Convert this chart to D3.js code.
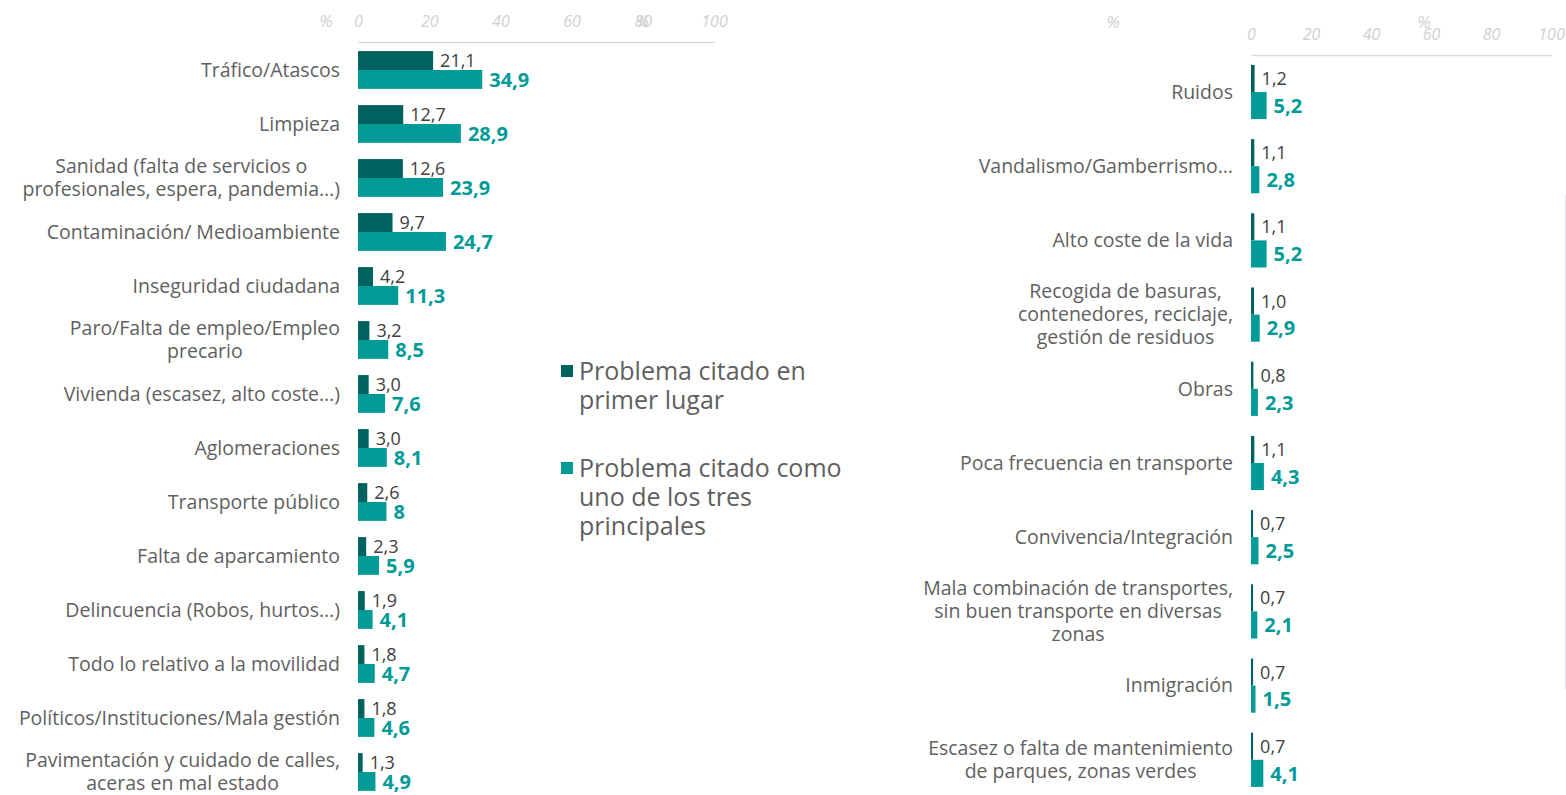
<!DOCTYPE html>
<html>
<head>
<meta charset="utf-8">
<script src="https://d3js.org/d3.v7.min.js"></script>
<style>
  body { margin: 0; background: #fff; }
  svg { display: block; font-family: "Open Sans", sans-serif; }
</style>
</head>
<body>
<svg id="canvas"></svg>
<script>
// ---- data ----
var seriesNames = ["Problema citado en primer lugar", "Problema citado como uno de los tres principales"];
var tickValues = [0, 20, 40, 60, 80, 100];

var leftCategories = [
  "Tráfico/Atascos", "Limpieza",
  "Sanidad (falta de servicios o\nprofesionales, espera, pandemia…)",
  "Contaminación/ Medioambiente", "Inseguridad ciudadana",
  "Paro/Falta de empleo/Empleo\nprecario", "Vivienda (escasez, alto coste…)",
  "Aglomeraciones", "Transporte público", "Falta de aparcamiento",
  "Delincuencia (Robos, hurtos…)", "Todo lo relativo a la movilidad",
  "Políticos/Instituciones/Mala gestión",
  "Pavimentación y cuidado de calles,\naceras en mal estado"
];
var leftFirst = ["21,1", "12,7", "12,6", "9,7", "4,2", "3,2", "3,0", "3,0", "2,6", "2,3", "1,9", "1,8", "1,8", "1,3"];
var leftTop3 = ["34,9", "28,9", "23,9", "24,7", "11,3", "8,5", "7,6", "8,1", "8", "5,9", "4,1", "4,7", "4,6", "4,9"];

var rightCategories = [
  "Ruidos", "Vandalismo/Gamberrismo…", "Alto coste de la vida",
  "Recogida de basuras,\ncontenedores, reciclaje,\ngestión de residuos",
  "Obras", "Poca frecuencia en transporte", "Convivencia/Integración",
  "Mala combinación de transportes,\nsin buen transporte en diversas\nzonas",
  "Inmigración",
  "Escasez o falta de mantenimiento\nde parques, zonas verdes"
];
var rightFirst = ["1,2", "1,1", "1,1", "1,0", "0,8", "1,1", "0,7", "0,7", "0,7", "0,7"];
var rightTop3 = ["5,2", "2,8", "5,2", "2,9", "2,3", "4,3", "2,5", "2,1", "1,5", "4,1"];

// ---- styles ----
var colors = ["#00625F", "#009A97"];
var labelColor = "#5f5f5f";
var tickColor = "#d0d0d0";

var W = 1566, H = 795;
var svg = d3.select("#canvas").attr("width", W).attr("height", H);

function num(s) { return +s.replace(",", "."); }

function drawPanel(opt) {
  var x = d3.scaleLinear().domain([0, 100]).range([opt.x0, opt.x1]);
  var y = d3.scaleBand().domain(d3.range(opt.cats.length))
    .range(opt.yRange).paddingInner(opt.padIn).paddingOuter(opt.padOut);
  var sub = d3.scaleBand().domain([0, 1]).range([0, y.bandwidth()]);

  var g = svg.append("g");

  // axis on top
  var ax = g.append("g")
    .attr("transform", "translate(0," + opt.axisY + ")")
    .call(d3.axisTop(x).tickValues(tickValues).tickSize(0).tickSizeOuter(0).tickPadding(opt.tickPad));
  ax.select(".domain").attr("stroke", "#d9d9d9").attr("stroke-width", 1.5);
  ax.selectAll("text")
    .attr("fill", tickColor)
    .style("font-size", "16px")
    .style("font-style", "italic")
    .style("font-family", "'Open Sans', sans-serif");

  opt.pct.forEach(function (p) {
    g.append("text").attr("x", p[0]).attr("y", p[1])
      .attr("text-anchor", "middle")
      .attr("fill", tickColor)
      .style("font-size", "17px").style("font-style", "italic")
      .text("%");
  });

  var rows = opt.cats.map(function (c, i) {
    return { i: i, cat: c, v: [num(opt.first[i]), num(opt.top3[i])], s: [opt.first[i], opt.top3[i]] };
  });

  var row = g.selectAll(".row").data(rows).enter().append("g")
    .attr("transform", function (d) { return "translate(0," + y(d.i) + ")"; });

  [0, 1].forEach(function (k) {
    row.append("rect")
      .attr("x", x(0))
      .attr("y", sub(k))
      .attr("width", function (d) { return x(d.v[k]) - x(0); })
      .attr("height", sub.bandwidth())
      .attr("fill", colors[k]);
    row.append("text")
      .attr("x", function (d) { return x(d.v[k]) + 7; })
      .attr("y", sub(k) + sub.bandwidth() / 2)
      .attr("dy", "0.36em")
      .attr("fill", k ? colors[1] : "#404040")
      .style("font-size", k ? "20px" : "18px")
      .style("font-weight", k ? "700" : "400")
      .text(function (d) { return d.s[k]; });
  });

  // category labels (multi-line blocks centred, block right aligned)
  row.each(function (d) {
    var lines = d.cat.split("\n");
    var t = d3.select(this).append("text")
      .attr("fill", labelColor)
      .style("font-size", "19.5px");
    var lh = 23;
    var top = y.bandwidth() / 2 - (lines.length - 1) * lh / 2;
    var spans = lines.map(function (l, j) {
      return t.append("tspan").attr("y", top + j * lh).attr("dy", "0.35em").text(l);
    });
    var maxW = d3.max(spans, function (s) { return s.node().getComputedTextLength(); });
    if (lines.length === 1) {
      t.attr("text-anchor", "end");
      spans[0].attr("x", opt.labelX);
    } else {
      t.attr("text-anchor", "middle");
      spans.forEach(function (s) { s.attr("x", opt.labelX - maxW / 2); });
    }
  });
}

drawPanel({
  cats: leftCategories, first: leftFirst, top3: leftTop3,
  x0: 358, x1: 714, yRange: [43, 799], padIn: 0.3, padOut: 0.15,
  axisY: 42, tickPad: 15, labelX: 340,
  pct: [[326, 27], [642, 27]]
});

drawPanel({
  cats: rightCategories, first: rightFirst, top3: rightTop3,
  x0: 1251, x1: 1551, yRange: [54.9, 796.9], padIn: 0.27, padOut: 0.135,
  axisY: 55, tickPad: 15, labelX: 1233,
  pct: [[1113, 28], [1424, 28]]
});

// legend
var legend = svg.append("g").attr("transform", "translate(561,0)");
var legendLines = [["Problema citado en", "primer lugar"], ["Problema citado como", "uno de los tres", "principales"]];
var legendTop = [371, 468];
seriesNames.forEach(function (name, k) {
  legend.append("rect").attr("x", 0).attr("y", legendTop[k] - 6).attr("width", 12).attr("height", 12)
    .attr("fill", colors[k]);
  var t = legend.append("text").attr("fill", labelColor).style("font-size", "25px");
  legendLines[k].forEach(function (l, j) {
    t.append("tspan").attr("x", 18).attr("y", legendTop[k] + j * 29).attr("dy", "0.35em").text(l);
  });
});

// faint frame line at the right edge
svg.append("line").attr("x1", 1565.5).attr("x2", 1565.5).attr("y1", 195).attr("y2", 690)
  .attr("stroke", "#dbe7ec").attr("stroke-width", 1);
</script>
</body>
</html>
